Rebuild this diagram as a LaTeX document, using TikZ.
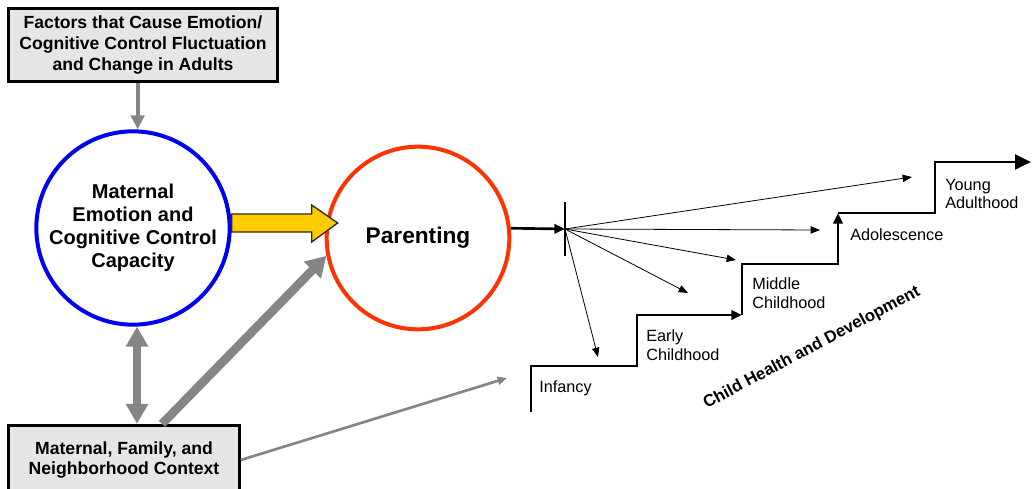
\documentclass[tikz,border=0pt]{standalone}
\usepackage{fontspec}
\setmainfont{Liberation Sans}
\usetikzlibrary{arrows.meta,calc,positioning}

\definecolor{boxgray}{HTML}{E6E6E6}
\definecolor{capblue}{HTML}{0000F0}
\definecolor{parred}{HTML}{FF3300}
\definecolor{blockyellow}{HTML}{FFCC00}
\definecolor{lgray}{HTML}{858585}

\begin{document}
\begin{tikzpicture}[x=0.75pt,y=-0.75pt,
  box/.style={draw,line width=2.2pt,fill=boxgray,align=center,inner sep=0pt,
    font=\bfseries\fontsize{13.2}{15.4}\selectfont},
  ring/.style={circle,line width=3pt,align=center,inner sep=0pt},
  stage/.style={anchor=west,align=left,inner sep=0pt,font=\fontsize{12.2}{13.8}\selectfont},
  garrow/.style={draw=lgray,line width=3pt,-{Triangle[length=10.5pt,width=10pt]}},
  fan/.style={line width=0.6pt,-{Triangle[length=7pt,width=5.5pt]}},
  stair/.style={line width=2.2pt,line join=miter}]

  \useasboundingbox (0,0) rectangle (1033,489);

  % boxes and circles
  \node[box,minimum width=202pt,minimum height=55pt] (factors) at (143,45)
    {Factors that Cause Emotion/\\Cognitive Control Fluctuation\\and Change in Adults};
  \node[ring,draw=capblue,minimum size=145pt,
    font=\bfseries\fontsize{15}{17.3}\selectfont] (capacity) at (133,228)
    {Maternal\\Emotion and\\Cognitive Control\\Capacity};
  \node[ring,draw=parred,minimum size=137pt,
    font=\bfseries\fontsize{17}{20}\selectfont] (parenting) at (418,238) {Parenting};
  \node[box,minimum width=173pt,minimum height=52pt] (context) at (124,460)
    {Maternal, Family, and\\Neighborhood Context};

  % gray connectors
  \draw[garrow] ([xshift=3.5pt]capacity.north |- factors.south) -- ([xshift=3.5pt]capacity.north);
  \draw[draw=lgray,line width=5.5pt,{Triangle[length=15pt,width=16pt]}-{Triangle[length=15pt,width=16pt]}]
    ([xshift=3pt]capacity.south) -- ([xshift=3pt]capacity.south |- context.north);
  \draw[draw=lgray,line width=6.5pt,-{Triangle[length=15pt,width=17pt]}]
    ($(context.north)+(38,0)$) -- (parenting.191);
  \coordinate (ctxend) at (507,378);
  \draw[draw=lgray,line width=2pt,-{Triangle[length=7pt,width=6pt]}] (context.east) -- (ctxend);

  % block arrow
  \draw[fill=blockyellow,draw=black!80!blockyellow,line width=1pt,shift={(capacity.east)}]
    (0,-14) -- (80,-14) -- (80,-23) -- (106,-5) -- (80,14) -- (80,4) -- (0,4) -- cycle;

  % parenting to child outcomes
  \coordinate (hub) at (565,229);
  \draw[line width=2pt,-{Triangle[length=8pt,width=7pt]}] (parenting.6) -- (hub);
  \draw[line width=2.2pt] (hub) ++(0,-27) -- ++(0,54);
  \foreach \p in {(598,357),(688,293),(736,260),(820,230),(912,177)}
    \draw[fan] (hub) -- \p;

  % stairs
  \draw[stair,-{Triangle[length=8pt,width=7pt]}]
    (531,412) -- (531,366) -- (637,366) -- (637,315) -- (742,315);
  \draw[stair,-{Triangle[length=8pt,width=7pt]}]
    (742,315) -- (742,264) -- (838,264) -- (838,213);
  \draw[stair,-{Triangle[length=12pt,width=11pt]}]
    (838,213) -- (935,213) -- (935,162) -- (1031,162);

  \node[stage] (infancy) at (539,388) {Infancy};
  \node[stage] (early) at (646,345) {Early\\Childhood};
  \node[stage] (middle) at (752,293) {Middle\\Childhood};
  \node[stage] (adol) at (850,235) {Adolescence};
  \node[stage] (young) at (945,194) {Young\\Adulthood};

  \node[rotate=28,font=\bfseries\fontsize{12.6}{14}\selectfont] (chd) at (812,348)
    {Child Health and Development};
\end{tikzpicture}
\end{document}
